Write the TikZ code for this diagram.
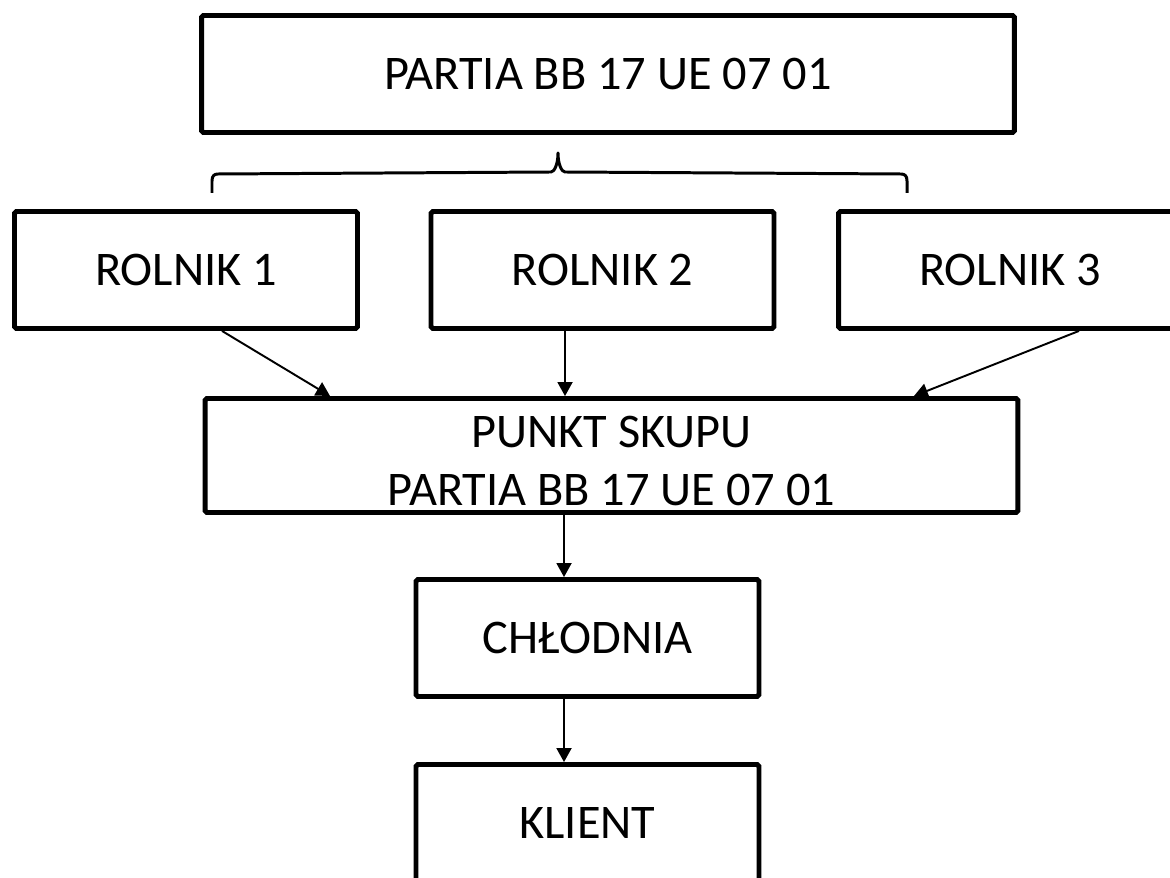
\documentclass[tikz,border=0pt]{standalone}
\usepackage{fontspec}
\setmainfont{Carlito}
\usetikzlibrary{arrows.meta}

\begin{document}
\begin{tikzpicture}[x=0.02cm, y=-0.02cm,
    box/.style = {draw, rectangle, line width=2.8pt, rounded corners=1pt, inner sep=0pt,
      align=center, minimum height=2.34cm, font=\fontsize{27.5}{33}\selectfont},
    wide/.style = {box, minimum width=16.26cm},
    narrow/.style = {box, minimum width=6.86cm}]
  \clip (0,0) rectangle (1170,878);

  \node (partia) [wide] at (608,74) {PARTIA BB 17 UE 07 01};
  \node (rol1) [narrow] at (186,270) {ROLNIK 1};
  \node (rol2) [narrow] at (602.5,270) {ROLNIK 2};
  \node (rol3) [narrow] at (1010,270) {ROLNIK 3};
  \node (skup) [wide, minimum height=2.28cm] at (611.5,455.5) {\rule{0pt}{0.86cm}PUNKT SKUPU\\PARTIA BB 17 UE 07 01};
  \node (chlodnia) [narrow] at (587.5,638) {CHŁODNIA};
  \node (klient) [narrow] at (587.5,823) {KLIENT};

  \coordinate (bl) at (212,193);
  \coordinate (tip) at (558,153);
  \coordinate (br) at (907,193);
  \draw [line width=1.7pt, line join=round]
    (bl) -- ++(0,-12) .. controls ++(0,-5) and ++(-4,0) .. ++(6,-7) -- ([xshift=-0.14cm, yshift=-0.38cm]tip)
    .. controls ++(3,0) and ++(0,12) .. (tip)
    .. controls ++(0,12) and ++(-3,0) .. ([xshift=0.14cm, yshift=-0.38cm]tip)
    -- ([xshift=-0.12cm, yshift=0.38cm]br) .. controls ++(4,0) and ++(0,-5) .. ([yshift=0.24cm]br) -- (br);

  \path [-{Triangle[length=0.28cm, width=0.3cm]}, line width=1.1pt]
    ([xshift=0.72cm]rol1.south) edge ([xshift=-5.63cm]skup.north)
    ([xshift=-0.75cm]rol2.south) edge ([xshift=-0.93cm]skup.north)
    ([xshift=1.38cm]rol3.south) edge ([xshift=6.05cm]skup.north)
    ([xshift=-0.95cm]skup.south) edge ([xshift=-0.47cm]chlodnia.north)
    ([xshift=-0.47cm]chlodnia.south) edge ([xshift=-0.47cm]klient.north);
\end{tikzpicture}
\end{document}
